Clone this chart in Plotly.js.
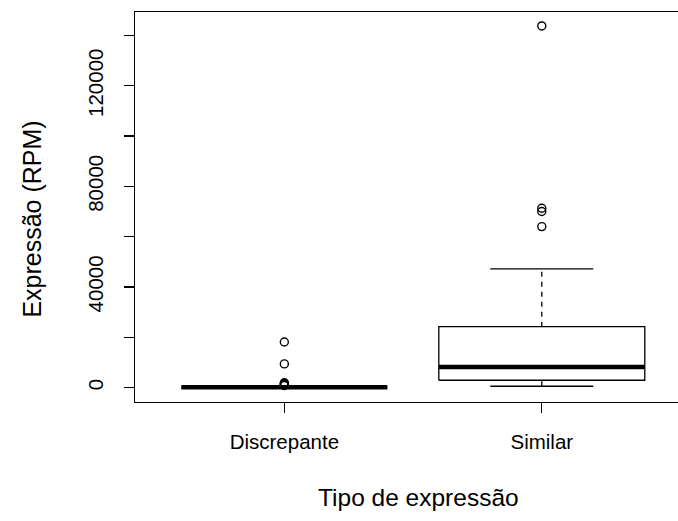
<!DOCTYPE html>
<html>
<head>
<meta charset="utf-8">
<script src="https://cdn.plot.ly/plotly-3.0.1.min.js"></script>
<style>html,body{margin:0;padding:0;background:#fff;}#chart{width:678px;height:521px;}</style>
</head>
<body>
<div id="chart"></div>
<script>
// Data (RPM)
var categories = ["Discrepante", "Similar"];
var lowerWhisker = [0, 520];
var q1Values = [10, 2900];
var medianValues = [80, 8200];
var q3Values = [250, 24200];
var upperWhisker = [600, 47200];
var outliersDiscrepante = [18100, 9400, 1900, 1600, 1300, 1000, 800];
var outliersSimilar = [143800, 71300, 70000, 64000];
var outlierSets = [outliersDiscrepante, outliersSimilar];

var yTickVals = [0, 20000, 40000, 60000, 80000, 100000, 120000, 140000];
var yTickText = ["0", "", "40000", "", "80000", "", "120000", ""];
var xTitle = "Tipo de expressão";
var yTitle = "Expressão (RPM)";

var FONT = "Liberation Sans, Arial, Helvetica, sans-serif";
var lw = 1.3;
var halfBox = 0.4, halfCap = 0.2;
var traces = [];
categories.forEach(function (cat, i) {
  var xc = i + 1;
  traces.push({x: [xc - halfBox, xc + halfBox, xc + halfBox, xc - halfBox, xc - halfBox],
    y: [q1Values[i], q1Values[i], q3Values[i], q3Values[i], q1Values[i]],
    mode: "lines", line: {color: "black", width: lw}, hoverinfo: "skip", showlegend: false});
  traces.push({x: [xc, xc], y: [q3Values[i], upperWhisker[i]], mode: "lines",
    line: {color: "black", width: lw, dash: "5px,5px"}, hoverinfo: "skip", showlegend: false});
  traces.push({x: [xc, xc], y: [lowerWhisker[i], q1Values[i]], mode: "lines",
    line: {color: "black", width: lw, dash: "5px,5px"}, hoverinfo: "skip", showlegend: false});
  traces.push({x: [xc - halfCap, xc + halfCap], y: [upperWhisker[i], upperWhisker[i]], mode: "lines",
    line: {color: "black", width: lw}, hoverinfo: "skip", showlegend: false});
  traces.push({x: [xc - halfCap, xc + halfCap], y: [lowerWhisker[i], lowerWhisker[i]], mode: "lines",
    line: {color: "black", width: lw}, hoverinfo: "skip", showlegend: false});
  traces.push({x: [xc - halfBox, xc + halfBox], y: [medianValues[i], medianValues[i]], mode: "lines",
    line: {color: "black", width: 4.5}, hoverinfo: "skip", showlegend: false});
  traces.push({x: outlierSets[i].map(function () { return xc; }), y: outlierSets[i], mode: "markers",
    marker: {symbol: "circle-open", size: 8, color: "black", line: {width: 1.4, color: "black"}},
    name: cat, showlegend: false});
});

var L = 134.5, W = 678 - 134.5, T = 12, H = 390;
var layout = {
  width: 678, height: 521,
  margin: {l: L, r: 0, t: T, b: 521 - T - H},
  paper_bgcolor: "white", plot_bgcolor: "white",
  font: {family: FONT, color: "black", size: 20},
  showlegend: false,
  xaxis: {
    range: [0.42, 2.529], tickmode: "array", tickvals: [1, 2], ticktext: categories,
    showgrid: false, zeroline: false, showline: true, mirror: true, linecolor: "black", linewidth: lw,
    ticks: "outside", ticklen: 10, tickwidth: lw, tickcolor: "black",
    tickfont: {family: FONT, size: 20.5, color: "black"}, ticklabelstandoff: 11,
    automargin: false, fixedrange: true
  },
  yaxis: {
    range: [-5744, 149344], tickmode: "array", tickvals: yTickVals, ticktext: yTickText,
    showgrid: false, zeroline: false, showline: true, linecolor: "black", linewidth: lw,
    ticks: "outside", ticklen: 10, tickwidth: lw, tickcolor: "black", tickangle: -90,
    tickfont: {family: FONT, size: 20.5, color: "black"}, ticklabelstandoff: 13,
    automargin: false, fixedrange: true
  },
  annotations: [
    {text: xTitle, xref: "paper", yref: "paper", x: (418 - L) / W, y: (521 - T - H - (497 - T - H)) / H - 0,
     xanchor: "center", yanchor: "middle", showarrow: false,
     font: {family: FONT, size: 24.5, color: "black"}},
    {text: yTitle, xref: "paper", yref: "paper", x: (31 - L) / W, y: (T + H - 219) / H,
     xanchor: "center", yanchor: "middle", textangle: -90, showarrow: false,
     font: {family: FONT, size: 25, color: "black"}}
  ]
};
// x title: y pixel 497 -> paper coordinate
layout.annotations[0].y = (T + H - 497) / H;
Plotly.newPlot("chart", traces, layout, {displayModeBar: false, staticPlot: true});
</script>
</body>
</html>
